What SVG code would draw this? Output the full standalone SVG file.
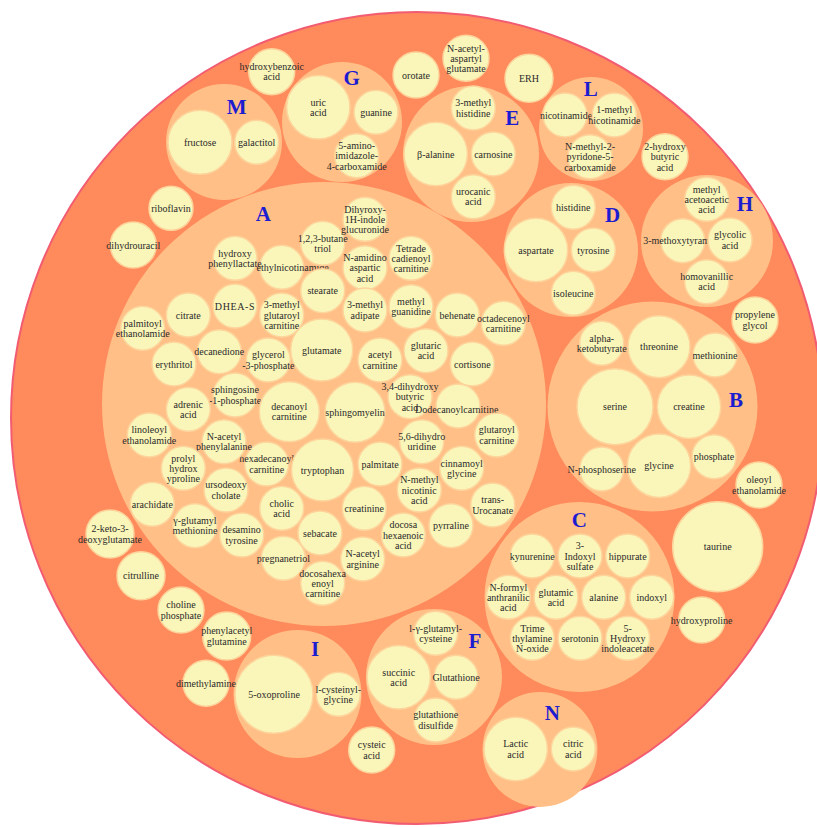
<svg xmlns="http://www.w3.org/2000/svg" width="817" height="827" viewBox="0 0 817 827">
<style>
.outer{fill:#ff8a5b;stroke:#f25c72;stroke-width:2}
.grp{fill:#ffbf86}
.leaf{fill:#faf6b9;stroke:#fdd49c;stroke-width:1.5}
.t{font-family:"Liberation Serif",serif;font-size:10px;fill:#2a2a2a;text-anchor:middle}
.ts{font-family:"Liberation Serif",serif;font-size:10px;fill:#2a2a2a;text-anchor:start}
.lbl{font-family:"Liberation Serif",serif;font-size:21px;font-weight:bold;fill:#1c1cd0;text-anchor:middle}
</style>
<rect x="0" y="0" width="817" height="827" fill="#ffffff"/>
<g id="root"><circle class="outer" cx="417" cy="418" r="406"/></g>
<g id="connectors"/>

<g id="grp-M">
<circle class="grp" cx="224" cy="142" r="58"/>
<g id="n-fructose"><circle class="leaf" cx="200" cy="142.3" r="32"/><text class="t" x="200" y="145.8">fructose</text></g>
<g id="n-galactitol"><circle class="leaf" cx="256.7" cy="142.3" r="22"/><text class="t" x="256.7" y="145.8">galactitol</text></g>
<text class="lbl" x="236.7" y="113.5">M</text>
</g>

<g id="grp-G">
<circle class="grp" cx="342" cy="122" r="60"/>
<g id="n-uric-acid"><circle class="leaf" cx="318.3" cy="107.3" r="31.7"/><text class="t" x="318.3" y="105.65">uric<tspan x="318.3" dy="10.3">acid</tspan></text></g>
<g id="n-guanine"><circle class="leaf" cx="376" cy="112.3" r="22"/><text class="t" x="376" y="115.8">guanine</text></g>
<g id="n-aica"><circle class="leaf" cx="356.7" cy="155.7" r="22"/><text class="t" x="356.7" y="148.9">5-amino-<tspan x="356.7" dy="10.3">imidazole-</tspan><tspan x="356.7" dy="10.3">4-carboxamide</tspan></text></g>
<text class="lbl" x="351.7" y="85">G</text>
</g>

<g id="grp-E">
<circle class="grp" cx="471" cy="154" r="68"/>
<g id="n-3-methyl-histidine"><circle class="leaf" cx="473.3" cy="108" r="22"/><text class="t" x="473.3" y="106.35">3-methyl<tspan x="473.3" dy="10.3">histidine</tspan></text></g>
<g id="n-beta-alanine"><circle class="leaf" cx="435.7" cy="154" r="31.7"/><text class="t" x="435.7" y="157.5">β-alanine</text></g>
<g id="n-carnosine"><circle class="leaf" cx="493.3" cy="154" r="22"/><text class="t" x="493.3" y="157.5">carnosine</text></g>
<g id="n-urocanic-acid"><circle class="leaf" cx="473.3" cy="196.7" r="22"/><text class="t" x="473.3" y="195.05">urocanic<tspan x="473.3" dy="10.3">acid</tspan></text></g>
<text class="lbl" x="512.3" y="125">E</text>
</g>

<g id="grp-L">
<circle class="grp" cx="591" cy="129" r="52"/>
<g id="n-nicotinamide"><circle class="leaf" cx="565" cy="115" r="22"/><text class="t" x="566" y="118.5">nicotinamide</text></g>
<g id="n-1-methyl-nicotinamide"><circle class="leaf" cx="614.3" cy="115" r="22"/><text class="t" x="614.3" y="113.35">1-methyl<tspan x="614.3" dy="10.3">nicotinamide</tspan></text></g>
<g id="n-2py"><circle class="leaf" cx="590" cy="156.7" r="22"/><text class="t" x="590" y="149.9">N-methyl-2-<tspan x="590" dy="10.3">pyridone-5-</tspan><tspan x="590" dy="10.3">carboxamide</tspan></text></g>
<text class="lbl" x="590.7" y="96">L</text>
</g>

<g id="grp-D">
<circle class="grp" cx="571" cy="250" r="67"/>
<g id="n-histidine"><circle class="leaf" cx="573.3" cy="207.3" r="22"/><text class="t" x="573.3" y="210.8">histidine</text></g>
<g id="n-aspartate"><circle class="leaf" cx="536" cy="250" r="31.7"/><text class="t" x="536" y="253.5">aspartate</text></g>
<g id="n-tyrosine"><circle class="leaf" cx="593.3" cy="250" r="22"/><text class="t" x="593.3" y="253.5">tyrosine</text></g>
<g id="n-isoleucine"><circle class="leaf" cx="573.3" cy="293.3" r="22"/><text class="t" x="573.3" y="296.8">isoleucine</text></g>
<text class="lbl" x="612.7" y="222">D</text>
</g>

<g id="grp-H">
<circle class="grp" cx="707" cy="241" r="66"/>
<g id="n-methyl-acetoacetic-acid"><circle class="leaf" cx="706.7" cy="199.3" r="22"/><text class="t" x="706.7" y="192.5">methyl<tspan x="706.7" dy="10.3">acetoacetic</tspan><tspan x="706.7" dy="10.3">acid</tspan></text></g>
<g id="n-3-methoxytyramine"><circle class="leaf" cx="682.7" cy="240.7" r="22"/><text class="t" x="682.7" y="244.2">3-methoxytyramine</text></g>
<g id="n-glycolic-acid"><circle class="leaf" cx="730" cy="240" r="22"/><text class="t" x="730" y="238.35">glycolic<tspan x="730" dy="10.3">acid</tspan></text></g>
<g id="n-homovanillic-acid"><circle class="leaf" cx="706.7" cy="281.7" r="22"/><text class="t" x="706.7" y="280.05">homovanillic<tspan x="706.7" dy="10.3">acid</tspan></text></g>
<text class="lbl" x="745" y="211">H</text>
</g>

<g id="grp-B">
<circle class="grp" cx="652.5" cy="406.5" r="105"/>
<g id="n-serine"><circle class="leaf" cx="615" cy="406.7" r="38"/><text class="t" x="615" y="410.2">serine</text></g>
<g id="n-creatine"><circle class="leaf" cx="689" cy="406.7" r="31.7"/><text class="t" x="689" y="410.2">creatine</text></g>
<g id="n-threonine"><circle class="leaf" cx="659" cy="346.7" r="31"/><text class="t" x="659" y="350.2">threonine</text></g>
<g id="n-alpha-ketobutyrate"><circle class="leaf" cx="601.7" cy="343.3" r="22"/><text class="t" x="601.7" y="341.65">alpha-<tspan x="601.7" dy="10.3">ketobutyrate</tspan></text></g>
<g id="n-methionine"><circle class="leaf" cx="715" cy="355" r="22"/><text class="t" x="715" y="358.5">methionine</text></g>
<g id="n-glycine"><circle class="leaf" cx="659" cy="465.7" r="31.7"/><text class="t" x="659" y="469.2">glycine</text></g>
<g id="n-phosphate"><circle class="leaf" cx="714" cy="456.7" r="22"/><text class="t" x="714" y="460.2">phosphate</text></g>
<g id="n-n-phosphoserine"><circle class="leaf" cx="601.7" cy="469" r="22"/><text class="t" x="601.7" y="472.5">N-phosphoserine</text></g>
<text class="lbl" x="736" y="407">B</text>
</g>

<g id="grp-C">
<circle class="grp" cx="579.5" cy="597" r="95"/>
<g id="n-kynurenine"><circle class="leaf" cx="532.3" cy="556" r="22"/><text class="t" x="532.3" y="559.5">kynurenine</text></g>
<g id="n-indoxyl-sulfate"><circle class="leaf" cx="580" cy="556" r="22"/><text class="t" x="580" y="549.2">3-<tspan x="580" dy="10.3">Indoxyl</tspan><tspan x="580" dy="10.3">sulfate</tspan></text></g>
<g id="n-hippurate"><circle class="leaf" cx="627.7" cy="556" r="22"/><text class="t" x="627.7" y="559.5">hippurate</text></g>
<g id="n-n-formyl-anthranilic-acid"><circle class="leaf" cx="508.3" cy="597.3" r="22"/><text class="t" x="508.3" y="590.5">N-formyl<tspan x="508.3" dy="10.3">anthranilic</tspan><tspan x="508.3" dy="10.3">acid</tspan></text></g>
<g id="n-glutamic-acid"><circle class="leaf" cx="556" cy="597.3" r="22"/><text class="t" x="556" y="595.65">glutamic<tspan x="556" dy="10.3">acid</tspan></text></g>
<g id="n-alanine"><circle class="leaf" cx="603.7" cy="597.3" r="22"/><text class="t" x="603.7" y="600.8">alanine</text></g>
<g id="n-indoxyl"><circle class="leaf" cx="651.7" cy="597.3" r="22"/><text class="t" x="651.7" y="600.8">indoxyl</text></g>
<g id="n-tmao"><circle class="leaf" cx="532.3" cy="638.3" r="22"/><text class="t" x="532.3" y="631.5">Trime<tspan x="532.3" dy="10.3">thylamine</tspan><tspan x="532.3" dy="10.3">N-oxide</tspan></text></g>
<g id="n-serotonin"><circle class="leaf" cx="580" cy="638.3" r="22"/><text class="t" x="580" y="641.8">serotonin</text></g>
<g id="n-5-hiaa"><circle class="leaf" cx="627.7" cy="638.3" r="22"/><text class="t" x="627.7" y="631.5">5-<tspan x="627.7" dy="10.3">Hydroxy</tspan><tspan x="627.7" dy="10.3">indoleacetate</tspan></text></g>
<text class="lbl" x="579.3" y="527">C</text>
</g>

<g id="grp-I">
<circle class="grp" cx="297.5" cy="694" r="64"/>
<g id="n-5-oxoproline"><circle class="leaf" cx="274" cy="694.3" r="39"/><text class="t" x="274" y="697.8">5-oxoproline</text></g>
<g id="n-cysteinyl-glycine"><circle class="leaf" cx="338.3" cy="694.3" r="22"/><text class="t" x="338.3" y="692.65">l-cysteinyl-<tspan x="338.3" dy="10.3">glycine</tspan></text></g>
<text class="lbl" x="315" y="656">I</text>
</g>

<g id="grp-F">
<circle class="grp" cx="434" cy="677" r="68"/>
<g id="n-glutamyl-cysteine"><circle class="leaf" cx="435.7" cy="633.3" r="22"/><text class="t" x="435.7" y="631.65">l-γ-glutamyl-<tspan x="435.7" dy="10.3">cysteine</tspan></text></g>
<g id="n-succinic-acid"><circle class="leaf" cx="398.7" cy="677.3" r="31.7"/><text class="t" x="398.7" y="675.65">succinic<tspan x="398.7" dy="10.3">acid</tspan></text></g>
<g id="n-glutathione"><circle class="leaf" cx="456" cy="677.3" r="22"/><text class="t" x="456" y="680.8">Glutathione</text></g>
<g id="n-glutathione-disulfide"><circle class="leaf" cx="435.7" cy="720" r="22"/><text class="t" x="435.7" y="718.35">glutathione<tspan x="435.7" dy="10.3">disulfide</tspan></text></g>
<text class="lbl" x="475" y="648">F</text>
</g>

<g id="grp-N">
<circle class="grp" cx="540" cy="749.5" r="57.5"/>
<g id="n-lactic-acid"><circle class="leaf" cx="515.7" cy="749" r="31.7"/><text class="t" x="515.7" y="747.35">Lactic<tspan x="515.7" dy="10.3">acid</tspan></text></g>
<g id="n-citric-acid"><circle class="leaf" cx="573.3" cy="749" r="22"/><text class="t" x="573.3" y="747.35">citric<tspan x="573.3" dy="10.3">acid</tspan></text></g>
<text class="lbl" x="552.3" y="720">N</text>
</g>

<g id="grp-A">
<circle class="grp" cx="324" cy="404" r="222"/>
<g id="n-methylnicotinamide"><circle class="leaf" cx="281.7" cy="267.3" r="22"/><text class="ts" x="256.5" y="270.8">ethylnicotinamide</text></g>
<g id="n-hydroxy-phenyllactate"><circle class="leaf" cx="235" cy="258.3" r="22"/><text class="t" x="235" y="256.65">hydroxy<tspan x="235" dy="10.3">phenyllactate</tspan></text></g>
<g id="n-butanetriol"><circle class="leaf" cx="322.7" cy="243.3" r="22"/><text class="t" x="322.7" y="241.65">1,2,3-butane<tspan x="322.7" dy="10.3">triol</tspan></text></g>
<g id="n-dihydroxyindole-glucuronide"><circle class="leaf" cx="365" cy="219.3" r="22"/><text class="t" x="365" y="212.5">Dihyroxy-<tspan x="365" dy="10.3">1H-indole</tspan><tspan x="365" dy="10.3">glucuronide</tspan></text></g>
<g id="n-n-amidino-aspartic-acid"><circle class="leaf" cx="365" cy="267.7" r="22"/><text class="t" x="365" y="260.9">N-amidino<tspan x="365" dy="10.3">aspartic</tspan><tspan x="365" dy="10.3">acid</tspan></text></g>
<g id="n-tetradecadienoyl-carnitine"><circle class="leaf" cx="411" cy="258.3" r="22"/><text class="t" x="411" y="251.5">Tetrade<tspan x="411" dy="10.3">cadienoyl</tspan><tspan x="411" dy="10.3">carnitine</tspan></text></g>
<g id="n-stearate"><circle class="leaf" cx="322.7" cy="290.7" r="22"/><text class="t" x="322.7" y="294.2">stearate</text></g>
<g id="n-dhea-s"><circle class="leaf" cx="235" cy="306" r="22"/><text class="t" x="235" y="309.5" letter-spacing="0.6">DHEA-S</text></g>
<g id="n-citrate"><circle class="leaf" cx="188.3" cy="315" r="22"/><text class="t" x="188.3" y="318.5">citrate</text></g>
<g id="n-3-methylglutaroyl-carnitine"><circle class="leaf" cx="281.7" cy="315" r="22"/><text class="t" x="281.7" y="308.2">3-methyl<tspan x="281.7" dy="10.3">glutaroyl</tspan><tspan x="281.7" dy="10.3">carnitine</tspan></text></g>
<g id="n-3-methyl-adipate"><circle class="leaf" cx="365" cy="310" r="22"/><text class="t" x="365" y="308.35">3-methyl<tspan x="365" dy="10.3">adipate</tspan></text></g>
<g id="n-methyl-guanidine"><circle class="leaf" cx="411" cy="306.7" r="22"/><text class="t" x="411" y="305.05">methyl<tspan x="411" dy="10.3">guanidine</tspan></text></g>
<g id="n-behenate"><circle class="leaf" cx="457.3" cy="315" r="22"/><text class="t" x="457.3" y="318.5">behenate</text></g>
<g id="n-octadecenoyl-carnitine"><circle class="leaf" cx="503.3" cy="323.3" r="22"/><text class="t" x="503.3" y="321.65">octadecenoyl<tspan x="503.3" dy="10.3">carnitine</tspan></text></g>
<g id="n-palmitoyl-ethanolamide"><circle class="leaf" cx="142.7" cy="328.3" r="22"/><text class="t" x="142.7" y="326.65">palmitoyl<tspan x="142.7" dy="10.3">ethanolamide</tspan></text></g>
<g id="n-glutamate"><circle class="leaf" cx="321.7" cy="350" r="31"/><text class="t" x="321.7" y="353.5">glutamate</text></g>
<g id="n-decanedione"><circle class="leaf" cx="219.3" cy="351.7" r="22"/><text class="t" x="219.3" y="355.2">decanedione</text></g>
<g id="n-glycerol-3-phosphate"><circle class="leaf" cx="268.3" cy="360" r="22"/><text class="t" x="268.3" y="358.35">glycerol<tspan x="268.3" dy="10.3">-3-phosphate</tspan></text></g>
<g id="n-acetyl-carnitine"><circle class="leaf" cx="380" cy="360" r="22"/><text class="t" x="380" y="358.35">acetyl<tspan x="380" dy="10.3">carnitine</tspan></text></g>
<g id="n-glutaric-acid"><circle class="leaf" cx="426" cy="350.7" r="22"/><text class="t" x="426" y="349.05">glutaric<tspan x="426" dy="10.3">acid</tspan></text></g>
<g id="n-cortisone"><circle class="leaf" cx="472.3" cy="364" r="22"/><text class="t" x="472.3" y="367.5">cortisone</text></g>
<g id="n-erythritol"><circle class="leaf" cx="174" cy="364" r="22"/><text class="t" x="174" y="367.5">erythritol</text></g>
<g id="n-sphingosine-1-phosphate"><circle class="leaf" cx="235" cy="395" r="22"/><text class="t" x="235" y="393.35">sphingosine<tspan x="235" dy="10.3">-1-phosphate</tspan></text></g>
<g id="n-adrenic-acid"><circle class="leaf" cx="188.3" cy="409.3" r="22"/><text class="t" x="188.3" y="407.65">adrenic<tspan x="188.3" dy="10.3">acid</tspan></text></g>
<g id="n-decanoyl-carnitine"><circle class="leaf" cx="289.3" cy="411.7" r="30"/><text class="t" x="289.3" y="410.05">decanoyl<tspan x="289.3" dy="10.3">carnitine</tspan></text></g>
<g id="n-sphingomyelin"><circle class="leaf" cx="355" cy="412.3" r="30"/><text class="t" x="355" y="415.8">sphingomyelin</text></g>
<g id="n-dihydroxybutyric-acid"><circle class="leaf" cx="410" cy="396.7" r="22"/><text class="t" x="410" y="389.9">3,4-dihydroxy<tspan x="410" dy="10.3">butyric</tspan><tspan x="410" dy="10.3">acid</tspan></text></g>
<g id="n-dodecanoylcarnitine"><circle class="leaf" cx="458" cy="406" r="22"/><text class="t" x="456.7" y="413">Dodecanoylcarnitine</text></g>
<g id="n-glutaroyl-carnitine"><circle class="leaf" cx="496.7" cy="435" r="22"/><text class="t" x="496.7" y="433.35">glutaroyl<tspan x="496.7" dy="10.3">carnitine</tspan></text></g>
<g id="n-dihydrouridine"><circle class="leaf" cx="421.7" cy="441.7" r="22"/><text class="t" x="421.7" y="440.05">5,6-dihydro<tspan x="421.7" dy="10.3">uridine</tspan></text></g>
<g id="n-linoleoyl-ethanolamide"><circle class="leaf" cx="149.3" cy="435" r="22"/><text class="t" x="149.3" y="433.35">linoleoyl<tspan x="149.3" dy="10.3">ethanolamide</tspan></text></g>
<g id="n-hexadecanoyl-carnitine"><circle class="leaf" cx="266.7" cy="464" r="22"/><text class="t" x="266.7" y="462.35">hexadecanoyl<tspan x="266.7" dy="10.3">carnitine</tspan></text></g>
<g id="n-n-acetyl-phenylalanine"><circle class="leaf" cx="224" cy="441.7" r="22"/><text class="t" x="224" y="440.05">N-acetyl<tspan x="224" dy="10.3">phenylalanine</tspan></text></g>
<g id="n-prolyl-hydroxyproline"><circle class="leaf" cx="183.3" cy="468.3" r="22"/><text class="t" x="183.3" y="461.5">prolyl<tspan x="183.3" dy="10.3">hydrox</tspan><tspan x="183.3" dy="10.3">yproline</tspan></text></g>
<g id="n-tryptophan"><circle class="leaf" cx="322.5" cy="470" r="31"/><text class="t" x="322.5" y="473.5">tryptophan</text></g>
<g id="n-palmitate"><circle class="leaf" cx="380" cy="464" r="22"/><text class="t" x="380" y="467.5">palmitate</text></g>
<g id="n-cinnamoyl-glycine"><circle class="leaf" cx="461.7" cy="468.3" r="22"/><text class="t" x="461.7" y="466.65">cinnamoyl<tspan x="461.7" dy="10.3">glycine</tspan></text></g>
<g id="n-n-methyl-nicotinic-acid"><circle class="leaf" cx="419.3" cy="490" r="22"/><text class="t" x="419.3" y="483.2">N-methyl<tspan x="419.3" dy="10.3">nicotinic</tspan><tspan x="419.3" dy="10.3">acid</tspan></text></g>
<g id="n-ursodeoxycholate"><circle class="leaf" cx="226" cy="490" r="22"/><text class="t" x="226" y="488.35">ursodeoxy<tspan x="226" dy="10.3">cholate</tspan></text></g>
<g id="n-arachidate"><circle class="leaf" cx="152.3" cy="504.3" r="22"/><text class="t" x="152.3" y="507.8">arachidate</text></g>
<g id="n-cholic-acid"><circle class="leaf" cx="281.7" cy="508.3" r="22"/><text class="t" x="281.7" y="506.65">cholic<tspan x="281.7" dy="10.3">acid</tspan></text></g>
<g id="n-creatinine"><circle class="leaf" cx="364.3" cy="508.3" r="22"/><text class="t" x="364.3" y="511.8">creatinine</text></g>
<g id="n-trans-urocanate"><circle class="leaf" cx="492.7" cy="505" r="22"/><text class="t" x="492.7" y="503.35">trans-<tspan x="492.7" dy="10.3">Urocanate</tspan></text></g>
<g id="n-glutamyl-methionine"><circle class="leaf" cx="195" cy="525.7" r="22"/><text class="t" x="195" y="524.05">γ-glutamyl<tspan x="195" dy="10.3">methionine</tspan></text></g>
<g id="n-desaminotyrosine"><circle class="leaf" cx="241.7" cy="535" r="22"/><text class="t" x="241.7" y="533.35">desamino<tspan x="241.7" dy="10.3">tyrosine</tspan></text></g>
<g id="n-sebacate"><circle class="leaf" cx="320" cy="533" r="22"/><text class="t" x="320" y="536.5">sebacate</text></g>
<g id="n-docosahexaenoic-acid"><circle class="leaf" cx="403.3" cy="535" r="22"/><text class="t" x="403.3" y="528.2">docosa<tspan x="403.3" dy="10.3">hexaenoic</tspan><tspan x="403.3" dy="10.3">acid</tspan></text></g>
<g id="n-pyrraline"><circle class="leaf" cx="451" cy="525.7" r="22"/><text class="t" x="451" y="529.2">pyrraline</text></g>
<g id="n-pregnanetriol"><circle class="leaf" cx="283.3" cy="558.3" r="22"/><text class="t" x="283.3" y="561.8">pregnanetriol</text></g>
<g id="n-n-acetyl-arginine"><circle class="leaf" cx="362.7" cy="559" r="22"/><text class="t" x="362.7" y="557.35">N-acetyl<tspan x="362.7" dy="10.3">arginine</tspan></text></g>
<g id="n-docosahexaenoyl-carnitine"><circle class="leaf" cx="322.7" cy="583.3" r="22"/><text class="t" x="322.7" y="576.5">docosahexa<tspan x="322.7" dy="10.3">enoyl</tspan><tspan x="322.7" dy="10.3">carnitine</tspan></text></g>
<text class="lbl" x="263.3" y="221">A</text>
</g>

<g id="n-hydroxybenzoic-acid"><circle class="leaf" cx="271.7" cy="71.7" r="23"/><text class="t" x="271.7" y="70.05">hydroxybenzoic<tspan x="271.7" dy="10.3">acid</tspan></text></g>
<g id="n-orotate"><circle class="leaf" cx="416" cy="75" r="23"/><text class="t" x="416" y="78.5">orotate</text></g>
<g id="n-n-acetyl-aspartyl-glutamate"><circle class="leaf" cx="466" cy="58.3" r="23"/><text class="t" x="466" y="51.5">N-acetyl-<tspan x="466" dy="10.3">aspartyl</tspan><tspan x="466" dy="10.3">glutamate</tspan></text></g>
<g id="n-erh"><circle class="leaf" cx="529" cy="78.3" r="24"/><text class="t" x="529" y="81.8">ERH</text></g>
<g id="n-2-hydroxybutyric-acid"><circle class="leaf" cx="665" cy="156.7" r="23"/><text class="t" x="665" y="149.9">2-hydroxy<tspan x="665" dy="10.3">butyric</tspan><tspan x="665" dy="10.3">acid</tspan></text></g>
<g id="n-riboflavin"><circle class="leaf" cx="171" cy="208.3" r="22"/><text class="t" x="171" y="211.8">riboflavin</text></g>
<g id="n-dihydrouracil"><circle class="leaf" cx="133.3" cy="245" r="23"/><text class="t" x="133.3" y="248.5">dihydrouracil</text></g>
<g id="n-propylene-glycol"><circle class="leaf" cx="755" cy="320" r="23"/><text class="t" x="755" y="318.35">propylene<tspan x="755" dy="10.3">glycol</tspan></text></g>
<g id="n-oleoyl-ethanolamide"><circle class="leaf" cx="759" cy="485" r="23"/><text class="t" x="759" y="483.35">oleoyl<tspan x="759" dy="10.3">ethanolamide</tspan></text></g>
<g id="n-taurine"><circle class="leaf" cx="717.7" cy="546.7" r="45"/><text class="t" x="717.7" y="550.2">taurine</text></g>
<g id="n-hydroxyproline"><circle class="leaf" cx="701.7" cy="620" r="23"/><text class="t" x="701.7" y="623.5">hydroxyproline</text></g>
<g id="n-2-keto-3-deoxyglutamate"><circle class="leaf" cx="110" cy="534" r="24"/><text class="t" x="110" y="532.35">2-keto-3-<tspan x="110" dy="10.3">deoxyglutamate</tspan></text></g>
<g id="n-citrulline"><circle class="leaf" cx="141" cy="575.7" r="24"/><text class="t" x="141" y="579.2">citrulline</text></g>
<g id="n-choline-phosphate"><circle class="leaf" cx="181" cy="610" r="23"/><text class="t" x="181" y="608.35">choline<tspan x="181" dy="10.3">phosphate</tspan></text></g>
<g id="n-phenylacetyl-glutamine"><circle class="leaf" cx="226.7" cy="636" r="24"/><text class="t" x="226.7" y="634.35">phenylacetyl<tspan x="226.7" dy="10.3">glutamine</tspan></text></g>
<g id="n-dimethylamine"><circle class="leaf" cx="206" cy="683.3" r="23"/><text class="t" x="206" y="686.8">dimethylamine</text></g>
<g id="n-cysteic-acid"><circle class="leaf" cx="371.7" cy="750" r="23"/><text class="t" x="371.7" y="748.35">cysteic<tspan x="371.7" dy="10.3">acid</tspan></text></g>
</svg>
